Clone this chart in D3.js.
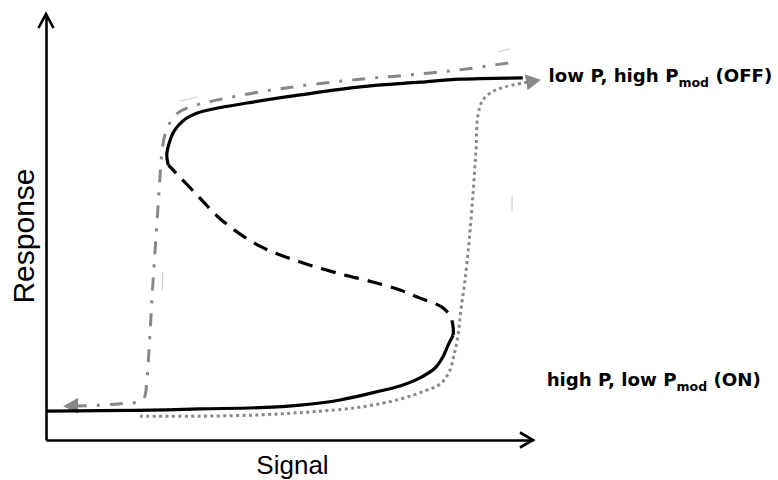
<!DOCTYPE html>
<html>
<head>
<meta charset="utf-8">
<script src="https://cdn.jsdelivr.net/npm/d3@7"></script>
<style>
  html, body { margin: 0; padding: 0; background: #fff; }
  svg { display: block; }
</style>
</head>
<body>
<svg id="chart" width="778" height="480"></svg>
<script>
// ---- data (signal, response) in arbitrary units 0..100 ----
const lowerStable = [
  [0, 6.8], [11.1, 6.9], [21.4, 7.0], [31.6, 7.3], [43.9, 7.6], [52.2, 8.2],
  [60.4, 9.4], [68.6, 11.5], [72.7, 12.7], [76.8, 14.6], [79.9, 16.9],
  [81.5, 19.5], [82.5, 22.1], [83.6, 24.6]
];
const unstable = [
  [83.6, 24.6], [83.6, 26.5], [83.0, 29.1], [81.3, 31.2], [76.8, 33.3],
  [72.7, 35.2], [67.1, 37.1], [60.4, 39.0], [52.2, 41.8], [43.9, 45.5],
  [36.1, 51.6], [30.6, 58.0], [25.1, 64.6]
];
const upperStable = [
  [25.1, 64.6], [24.8, 66.9], [25.3, 69.7], [26.3, 72.5], [28.1, 74.9],
  [31.2, 76.8], [34.3, 77.7], [41.3, 79.1], [52.2, 81.0], [64.5, 82.9],
  [76.8, 84.0], [85.0, 84.7], [97.9, 85.0]
];
// decreasing-signal trajectory (gray dash-dot), from right to left
const decreasingPath = [
  [94.9, 88.5], [85.0, 86.9], [74.7, 85.7], [64.5, 84.7], [52.2, 83.1],
  [43.9, 81.7], [34.3, 79.6], [29.6, 78.2], [27.1, 76.8], [25.5, 74.6],
  [24.4, 71.6], [23.8, 67.4], [23.4, 61.7], [23.0, 54.7], [22.4, 44.6],
  [21.8, 34.0], [21.4, 25.8], [21.0, 18.3], [20.7, 14.0], [19.9, 9.5],
  [15.2, 8.5], [6.4, 8.0]
];
// increasing-signal trajectory (gray dotted), from left to right
const increasingPath = [
  [19.3, 5.6], [31.6, 5.6], [43.9, 5.9], [54.2, 6.6], [64.5, 7.7],
  [72.7, 9.6], [77.8, 11.5], [80.9, 13.1], [82.8, 16.0], [83.8, 20.0],
  [84.6, 24.6], [85.2, 30.5], [86.0, 37.1], [86.9, 46.9], [87.7, 58.0],
  [88.3, 68.1], [88.7, 76.3], [89.7, 79.8], [91.6, 81.7], [94.3, 82.9],
  [98.8, 84.0]
];
// faint leftover strokes in the original figure
const faintMarks = [
  [[27.5, 79.6], [31.2, 80.5]],
  [[92.8, 91.1], [95.3, 91.8]],
  [[95.7, 57.3], [95.7, 53.8]],
  [[24.0, 39.4], [23.8, 35.2]]
];
const axisLabels = { x: "Signal", y: "Response" };
const stateLabels = [
  { pre: "low P, high P", sub: "mod", post: " (OFF)", at: [103.2, 84.0] },
  { pre: "high P, low P", sub: "mod", post: " (ON)", at: [102.8, 12.7] }
];

// ---- drawing ----
const svg = d3.select("#chart");
const W = 778, H = 480;
const m = { left: 46, right: 245, top: 14, bottom: 40 };
const x = d3.scaleLinear().domain([0, 100]).range([m.left, W - m.right]);
const y = d3.scaleLinear().domain([0, 100]).range([H - m.bottom, m.top]);

svg.append("rect").attr("width", W).attr("height", H).attr("fill", "#fff");

const defs = svg.append("defs");
function triMarker(id, color) {
  defs.append("marker")
    .attr("id", id)
    .attr("markerUnits", "userSpaceOnUse")
    .attr("viewBox", "0 -8 15 16")
    .attr("refX", 1).attr("refY", 0)
    .attr("markerWidth", 15).attr("markerHeight", 16)
    .attr("orient", "auto")
    .append("path")
    .attr("d", "M0,-8L15,0L0,8Z")
    .attr("fill", color).attr("stroke", "none");
}
triMarker("arrGray", "#888");

// axes (no ticks)
const gx = svg.append("g").attr("transform", `translate(0,${y(0)})`)
  .call(d3.axisBottom(x).tickValues([]).tickSizeOuter(0));
const gy = svg.append("g").attr("transform", `translate(${x(0)},0)`)
  .call(d3.axisLeft(y).tickValues([]).tickSizeOuter(0));
[gx, gy].forEach(g => g.select(".domain").attr("stroke", "#000").attr("stroke-width", 2.6));

// axis arrow heads (open chevrons)
svg.append("path")
  .attr("d", `M${x(0) - 7.5},${y(100) + 14}L${x(0)},${y(100)}L${x(0) + 7.5},${y(100) + 14}`)
  .attr("fill", "none").attr("stroke", "#000").attr("stroke-width", 2.6)
  .attr("stroke-linejoin", "miter");
svg.append("path")
  .attr("d", `M${x(100) - 13},${y(0) - 7.5}L${x(100)},${y(0)}L${x(100) - 13},${y(0) + 7.5}`)
  .attr("fill", "none").attr("stroke", "#000").attr("stroke-width", 2.6)
  .attr("stroke-linejoin", "miter");

// axis labels
svg.append("text")
  .attr("x", (x(0) + x(100)) / 2 + 3).attr("y", H - 6)
  .attr("text-anchor", "middle")
  .attr("font-family", "Liberation Sans, Arial, sans-serif")
  .attr("font-size", 26)
  .text(axisLabels.x);
svg.append("text")
  .attr("transform", `translate(34,${(y(0) + y(100)) / 2 + 9}) rotate(-90)`)
  .attr("text-anchor", "middle")
  .attr("font-family", "Liberation Sans, Arial, sans-serif")
  .attr("font-size", 30)
  .text(axisLabels.y);

const line = d3.line().x(d => x(d[0])).y(d => y(d[1])).curve(d3.curveCatmullRom.alpha(0.5));

// faint marks
svg.append("g").selectAll("path").data(faintMarks).join("path")
  .attr("d", d3.line().x(d => x(d[0])).y(d => y(d[1])))
  .attr("fill", "none").attr("stroke", "#c8c8c8").attr("stroke-width", 1);

// gray trajectories
svg.append("path").datum(decreasingPath)
  .attr("d", line)
  .attr("fill", "none").attr("stroke", "#888").attr("stroke-width", 3)
  .attr("stroke-dasharray", "13,10,3,10")
  .attr("marker-end", "url(#arrGray)");
svg.append("path").datum(increasingPath)
  .attr("d", line)
  .attr("fill", "none").attr("stroke", "#888").attr("stroke-width", 3)
  .attr("stroke-dasharray", "3,3.4")
  .attr("marker-end", "url(#arrGray)");

// bistable response curve
svg.append("path").datum(lowerStable).attr("d", line)
  .attr("fill", "none").attr("stroke", "#000").attr("stroke-width", 3.2);
svg.append("path").datum(unstable).attr("d", line)
  .attr("fill", "none").attr("stroke", "#000").attr("stroke-width", 3.2)
  .attr("stroke-dasharray", "15,9");
svg.append("path").datum(upperStable).attr("d", line)
  .attr("fill", "none").attr("stroke", "#000").attr("stroke-width", 3.2);

// state labels
stateLabels.forEach(s => {
  const t = svg.append("text")
    .attr("x", x(s.at[0])).attr("y", y(s.at[1]))
    .attr("font-family", "DejaVu Sans, Verdana, sans-serif")
    .attr("font-weight", "bold")
    .attr("font-size", 18.2);
  t.append("tspan").text(s.pre);
  t.append("tspan").attr("font-size", 12.5).attr("dy", 5).text(s.sub);
  t.append("tspan").attr("dy", -5).text(s.post);
});
</script>
</body>
</html>
